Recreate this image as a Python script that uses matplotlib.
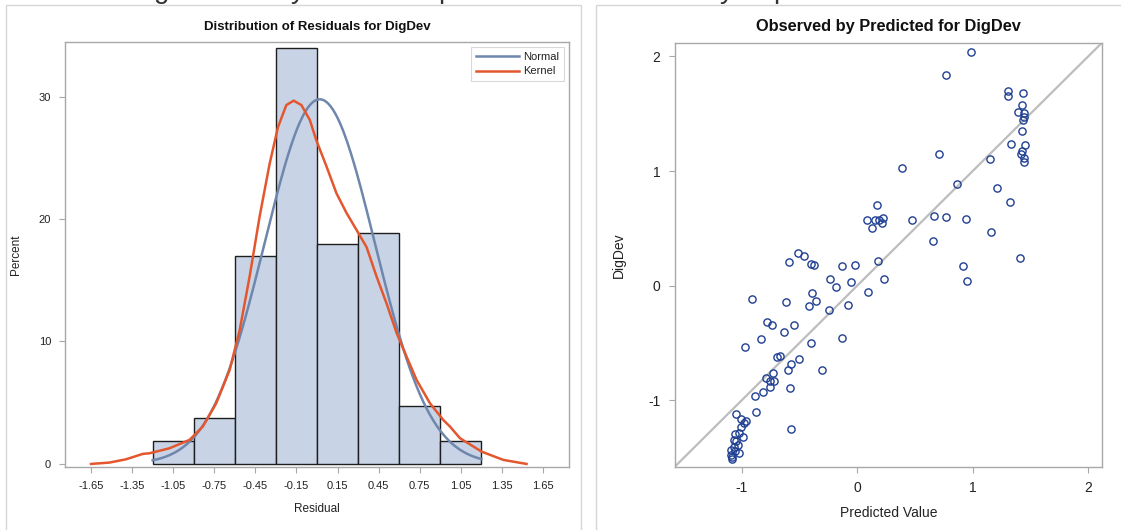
import matplotlib
matplotlib.use("Agg")
import matplotlib.pyplot as plt
from matplotlib.patches import Rectangle
import numpy as np

# residual histogram (percent per 0.3-wide bin)
bin_mids = [-1.05, -0.75, -0.45, -0.15, 0.15, 0.45, 0.75, 1.05]
bin_pct = [1.89, 3.77, 16.98, 33.96, 17.92, 18.87, 4.72, 1.89]
bin_width = 0.3

# fitted normal
normal_mu = 0.02
normal_sigma = 0.402

# kernel density curve (residual, percent)
kernel_x = [-1.65, -1.516, -1.394, -1.272, -1.223, -1.077, -0.931, -0.834, -0.736,
            -0.638, -0.565, -0.492, -0.419, -0.346, -0.285, -0.224, -0.17, -0.114,
            -0.053, -0.004, 0.069, 0.142, 0.215, 0.289, 0.362, 0.435, 0.508, 0.581,
            0.654, 0.727, 0.825, 0.922, 0.971, 1.044, 1.203, 1.36, 1.53]
kernel_y = [0.0, 0.11, 0.38, 0.82, 0.87, 1.28, 1.96, 3.05, 4.95,
            7.67, 10.9, 15.3, 20.2, 24.5, 27.5, 29.3, 29.66, 29.3,
            28.1, 26.4, 24.3, 22.1, 20.5, 19.1, 17.7, 15.3, 13.1, 10.7,
            8.76, 6.86, 4.95, 3.59, 3.05, 2.1, 1.0, 0.33, 0.0]

x_ticks = [-1.65, -1.35, -1.05, -0.75, -0.45, -0.15, 0.15, 0.45, 0.75, 1.05, 1.35, 1.65]
y_ticks = [0, 10, 20, 30]

# observed vs predicted
predicted = [0.985, 0.769, 1.303, 1.303, 1.438, 1.427, 1.389, 1.444, 1.444, 1.438,
             1.427, 1.332, 1.450, 1.430, 1.420, 1.448, 1.448, 0.711, 1.149, 0.387,
             0.867, 1.207, 1.323, 0.474, 0.665, 0.769, 0.942, 0.653, 1.159, 1.41,
             0.921, 0.950,
             0.09, 0.128, 0.17, 0.158, 0.194, 0.223, 0.214,
             -0.589, -0.509, -0.461, -0.396, -0.376, -0.127, -0.015, 0.182, 0.235,
             -0.237, -0.185, -0.052, 0.093,
             -0.91, -0.615, -0.387, -0.358, -0.416, -0.245, -0.081,
             -0.78, -0.739, -0.549, -0.635, -0.829, -0.13, -0.396, -0.971,
             -0.693, -0.665, -0.503, -0.569, -0.598, -0.301, -0.728, -0.789, -0.751,
             -0.719, -0.756, -0.581, -0.815, -0.881, -0.872, -0.569,
             -1.046, -1.003, -0.979, -0.959, -1.003, -1.06, -1.025, -0.988, -1.066,
             -1.046, -1.031, -1.066, -1.089, -1.06, -1.023, -1.089, -1.081, -1.081]
observed = [2.039, 1.842, 1.697, 1.654, 1.683, 1.578, 1.517, 1.509, 1.474, 1.442,
            1.346, 1.239, 1.228, 1.174, 1.152, 1.113, 1.083, 1.152, 1.103, 1.024,
            0.891, 0.850, 0.729, 0.570, 0.610, 0.598, 0.581, 0.387, 0.465, 0.24,
            0.176, 0.042,
            0.57, 0.503, 0.706, 0.578, 0.578, 0.593, 0.552,
            0.207, 0.289, 0.263, 0.193, 0.184, 0.172, 0.184, 0.213, 0.063,
            0.063, -0.007, 0.030, -0.054,
            -0.111, -0.141, -0.065, -0.132, -0.178, -0.207, -0.170,
            -0.315, -0.343, -0.343, -0.402, -0.468, -0.459, -0.497, -0.535,
            -0.622, -0.610, -0.642, -0.680, -0.737, -0.737, -0.763, -0.804, -0.828,
            -0.833, -0.880, -0.891, -0.929, -0.963, -1.103, -1.248,
            -1.12, -1.163, -1.192, -1.183, -1.231, -1.292, -1.283, -1.32, -1.341,
            -1.35, -1.39, -1.404, -1.436, -1.442, -1.462, -1.471, -1.494, -1.506]
scatter_ticks = [-1, 0, 1, 2]

plt.rcParams["font.family"] = ["Liberation Sans", "DejaVu Sans"]
plt.rcParams["axes.unicode_minus"] = False

W, H = 1121, 530
fig = plt.figure(figsize=(W / 100, H / 100), dpi=100)
fig.patch.set_facecolor("white")


def px_rect(left, top, right, bottom):
    return [left / W, 1 - bottom / H, (right - left) / W, (bottom - top) / H]


# panel borders
for x0, x1 in [(6, 581), (596, 1130)]:
    fig.add_artist(Rectangle((x0 / W, -0.05), (x1 - x0) / W, 1.05 - 5 / H,
                             transform=fig.transFigure, fill=False,
                             ec="#d6d6d6", lw=1.0))

# descenders of the heading line running above the panels
for cx, ch in [(162, "g"), (298, "y"), (446, "p"), (727, "y"), (781, "p")]:
    fig.text(cx / W, 1 + 2 / H, ch, ha="center", va="baseline",
             fontsize=20, color="#333333")

frame_col = "#a8a8a8"
text_col = "#222222"


def style_axes(ax, size):
    for s in ax.spines.values():
        s.set_color(frame_col)
        s.set_linewidth(1.0)
    ax.tick_params(colors=frame_col, labelcolor=text_col, labelsize=size,
                   length=4, width=0.8, pad=6)


# left: distribution of residuals
ax1 = fig.add_axes(px_rect(65, 42, 569, 467))
ax1.bar(bin_mids, bin_pct, width=bin_width, color="#c8d4e6",
        edgecolor="#1e1e1e", linewidth=1.0, zorder=2)
nx = np.linspace(bin_mids[0] - bin_width / 2, bin_mids[-1] + bin_width / 2, 300)
ny = 100 * bin_width * np.exp(-0.5 * ((nx - normal_mu) / normal_sigma) ** 2) / (
    normal_sigma * np.sqrt(2 * np.pi))
ax1.plot(nx, ny, color="#6f86ad", lw=1.8, label="Normal", zorder=3)
ax1.plot(kernel_x, kernel_y, color="#e4572e", lw=1.8, label="Kernel", zorder=4)
ax1.set_xlim(-1.84, 1.84)
ax1.set_ylim(-0.25, 34.45)
ax1.set_xticks(x_ticks)
ax1.set_xticklabels([f"{t:.2f}" for t in x_ticks])
ax1.set_yticks(y_ticks)
style_axes(ax1, 8)
ax1.set_xlabel("Residual", fontsize=8.5, color=text_col, labelpad=9)
ax1.set_ylabel("Percent", fontsize=8.5, color=text_col)
ax1.yaxis.set_label_coords((22 - 65) / 504, 0.5)
leg = ax1.legend(loc="upper right", fontsize=8, handlelength=3.8,
                 frameon=True, fancybox=False, borderaxespad=0.45,
                 borderpad=0.45, labelspacing=0.4, handletextpad=0.4)
leg.get_frame().set_edgecolor("#d0d0d0")
leg.get_frame().set_linewidth(0.8)
for t in leg.get_texts():
    t.set_color(text_col)
fig.text(317 / W, 1 - 27 / H, "Distribution of Residuals for DigDev",
         ha="center", va="center", fontsize=9.5, fontweight="bold", color="#111111")

# right: observed by predicted
ax2 = fig.add_axes(px_rect(674.5, 42.7, 1102, 467))
lo, hi = -1.58, 2.12
ax2.plot([lo, hi], [lo, hi], color="#bdbdbd", lw=1.6, zorder=1)
ax2.plot(predicted, observed, "o", ms=5.2, mfc="none", mec="#1f3f93", mew=1.0, zorder=2)
ax2.set_xlim(lo, hi)
ax2.set_ylim(lo, hi)
ax2.set_xticks(scatter_ticks)
ax2.set_yticks(scatter_ticks)
style_axes(ax2, 10)
ax2.set_xlabel("Predicted Value", fontsize=10, color=text_col, labelpad=8)
ax2.set_ylabel("DigDev", fontsize=10, color=text_col)
ax2.yaxis.set_label_coords((626 - 674.5) / 427.5, 0.5)
fig.text(888 / W, 1 - 27 / H, "Observed by Predicted for DigDev",
         ha="center", va="center", fontsize=11.8, fontweight="bold", color="#111111")

fig.savefig("out.png", dpi=100)
